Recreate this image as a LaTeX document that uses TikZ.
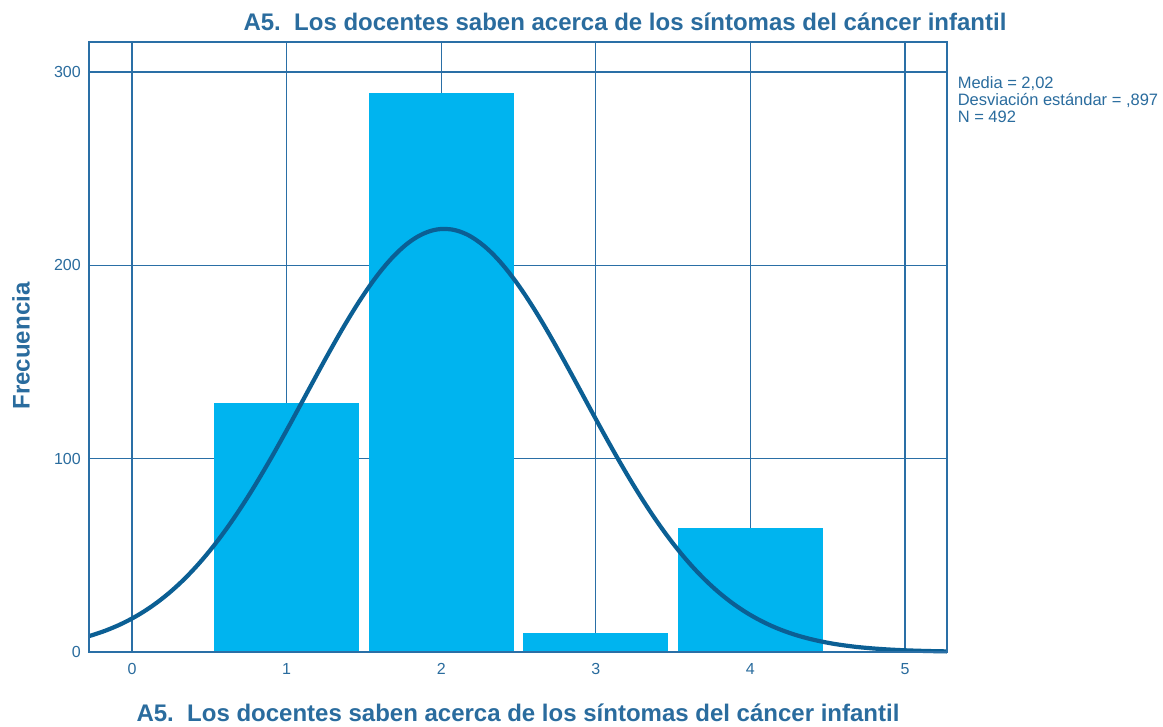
\documentclass[tikz,border=0pt]{standalone}
\usepackage{fontspec}
\setmainfont{Liberation Sans}
\usetikzlibrary{positioning}
\definecolor{gridblue}{HTML}{2A6FA6}
\definecolor{textblue}{HTML}{2A6C9E}
\definecolor{curveblue}{HTML}{0B5F94}
\definecolor{barcyan}{HTML}{00B4EF}
\tikzset{
  bar/.style={fill=barcyan, draw=none},
  gridline/.style={draw=gridblue, line width=1.3pt},
  curve/.style={draw=curveblue, line width=4.2pt},
  ticklab/.style={text=textblue, font=\fontsize{16}{16}\selectfont, inner sep=0pt},
  titlelab/.style={text=textblue, font=\bfseries\fontsize{24}{24}\selectfont, inner sep=0pt},
  statlab/.style={text=textblue, font=\fontsize{16.5}{17}\selectfont, inner sep=0pt, align=left}
}
\begin{document}
\begin{tikzpicture}
\useasboundingbox[fill=white] (0pt,0pt) rectangle (1163pt,727pt);
\begin{scope}[shift={(132pt,75pt)}, x=154.6pt, y=1.933pt]
% grid
\draw[gridline] (0,0) -- (0,315.6);
\draw[gridline] (1,0) -- (1,315.6);
\draw[gridline] (2,0) -- (2,315.6);
\draw[gridline] (3,0) -- (3,315.6);
\draw[gridline] (4,0) -- (4,315.6);
\draw[gridline] (5,0) -- (5,315.6);
\draw[gridline] (-0.278,100) -- (5.272,100);
\draw[gridline] (-0.278,200) -- (5.272,200);
\draw[gridline] (-0.278,300) -- (5.272,300);
% bars
\fill[bar] (0.53,0) rectangle (1.47,129);
\fill[bar] (1.53,0) rectangle (2.47,289);
\fill[bar] (2.53,0) rectangle (3.47,10);
\fill[bar] (3.53,0) rectangle (4.47,64);
% normal curve
\draw[curve] plot[domain=-0.278:5.272, samples=150, smooth]
  (\x, {218.82*exp(-((\x-2.02)*(\x-2.02))/1.6092)});
% frame
\draw[gridline] (-0.278,0) rectangle (5.272,315.6);
% y labels
\node[ticklab, anchor=east] (y0) at (-0.33,0) {0};
\node[ticklab, anchor=east] (y100) at (-0.33,100) {100};
\node[ticklab, anchor=east] (y200) at (-0.33,200) {200};
\node[ticklab, anchor=east] (y300) at (-0.33,300) {300};
% x labels
\node[ticklab, anchor=base] (x0) at (0,-11.6) {0};
\node[ticklab, anchor=base] (x1) at (1,-11.6) {1};
\node[ticklab, anchor=base] (x2) at (2,-11.6) {2};
\node[ticklab, anchor=base] (x3) at (3,-11.6) {3};
\node[ticklab, anchor=base] (x4) at (4,-11.6) {4};
\node[ticklab, anchor=base] (x5) at (5,-11.6) {5};
% stats
\node[statlab, anchor=north west] (stats) at (5.34,298) {Media = 2,02\\Desviación estándar = ,897\\N = 492};
\end{scope}
% titles
\node[titlelab] (title) at (625pt,705pt) {A5.\ \ Los docentes saben acerca de los síntomas del cáncer infantil};
\node[titlelab] (xtitle) at (518pt,14pt) {A5.\ \ Los docentes saben acerca de los síntomas del cáncer infantil};
\node[titlelab, rotate=90] (ytitle) at (21pt,381pt) {Frecuencia};
\end{tikzpicture}
\end{document}
